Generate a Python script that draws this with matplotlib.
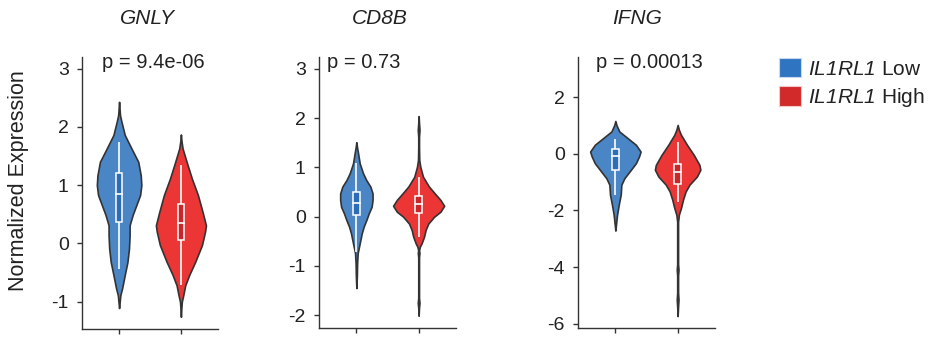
import matplotlib
matplotlib.use("Agg")
import matplotlib.pyplot as plt
from matplotlib.patches import Rectangle, Patch

plt.rcParams['font.family'] = ['Liberation Sans', 'DejaVu Sans']
plt.rcParams['mathtext.fontset'] = 'custom'
plt.rcParams['mathtext.it'] = 'Liberation Sans:italic'
plt.rcParams['mathtext.rm'] = 'Liberation Sans:italic'

# ---------------- data ----------------
genes = ["GNLY", "CD8B", "IFNG"]
groups = ["IL1RL1 Low", "IL1RL1 High"]
pvalues = ["p = 9.4e-06", "p = 0.73", "p = 0.00013"]
yticks = [[-1, 0, 1, 2, 3], [-2, -1, 0, 1, 2, 3], [-6, -4, -2, 0, 2]]
ylims = [(-1.47, 3.2), (-2.26, 3.24), (-6.15, 3.42)]

# violin density profiles (y level, half width)
gnly_low_y = [2.43, 2.3, 2.2, 2.09, 1.86, 1.63, 1.40, 1.17, 1.0, 0.83, 0.66, 0.49, 0.31, 0.14, -0.09, -0.32, -0.54, -0.77, -0.89, -1.0, -1.11]
gnly_low_w = [0, 0.008, 0.015, 0.038, 0.092, 0.2, 0.31, 0.35, 0.36, 0.34, 0.28, 0.22, 0.17, 0.17, 0.16, 0.135, 0.092, 0.049, 0.02, 0.01, 0]
gnly_high_y = [1.87, 1.75, 1.63, 1.40, 1.11, 0.83, 0.54, 0.31, 0.2, -0.03, -0.32, -0.54, -0.72, -0.89, -1.0, -1.1, -1.26]
gnly_high_w = [0, 0.01, 0.027, 0.092, 0.178, 0.275, 0.35, 0.405, 0.39, 0.34, 0.23, 0.135, 0.07, 0.038, 0.015, 0.008, 0]
cd8b_low_y = [1.51, 1.4, 1.29, 1.08, 0.88, 0.74, 0.61, 0.47, 0.34, 0.2, 0.07, -0.07, -0.2, -0.34, -0.54, -0.74, -0.95, -1.2, -1.45]
cd8b_low_w = [0, 0.012, 0.027, 0.054, 0.107, 0.16, 0.225, 0.26, 0.26, 0.245, 0.2, 0.16, 0.118, 0.086, 0.054, 0.021, 0.012, 0.008, 0]
cd8b_high_y = [2.04, 1.9, 1.76, 1.62, 1.4, 1.15, 1.01, 0.81, 0.61, 0.47, 0.34, 0.22, 0.1, 0.0, -0.14, -0.27, -0.41, -0.54, -0.61, -0.68, -0.74, -0.82, -1.5, -1.65, -1.75, -1.85, -2.01]
cd8b_high_w = [0, 0.006, 0.014, 0.006, 0.006, 0.01, 0.027, 0.07, 0.166, 0.26, 0.35, 0.41, 0.35, 0.25, 0.155, 0.112, 0.086, 0.048, 0.02, 0.007, 0.013, 0.006, 0.006, 0.006, 0.014, 0.006, 0]
ifng_low_y = [1.16, 1.0, 0.79, 0.55, 0.32, 0.08, -0.09, -0.33, -0.56, -0.86, -1.09, -1.44, -1.8, -2.15, -2.5, -2.71]
ifng_low_w = [0, 0.02, 0.064, 0.2, 0.33, 0.405, 0.38, 0.33, 0.25, 0.145, 0.096, 0.086, 0.054, 0.027, 0.01, 0]
ifng_high_y = [1.02, 0.85, 0.67, 0.32, -0.04, -0.39, -0.56, -0.8, -1.09, -1.33, -1.62, -1.91, -2.15, -2.4, -3.5, -3.9, -4.09, -4.3, -4.9, -5.15, -5.4, -5.73]
ifng_high_w = [0, 0.02, 0.054, 0.15, 0.26, 0.35, 0.365, 0.31, 0.19, 0.128, 0.086, 0.054, 0.02, 0.007, 0.007, 0.007, 0.014, 0.007, 0.007, 0.014, 0.007, 0]

profiles = [
    [(gnly_low_y, gnly_low_w), (gnly_high_y, gnly_high_w)],
    [(cd8b_low_y, cd8b_low_w), (cd8b_high_y, cd8b_high_w)],
    [(ifng_low_y, ifng_low_w), (ifng_high_y, ifng_high_w)],
]

# box stats: whisker low, q1, median, q3, whisker high
gnly_box = [[-0.44, 0.37, 0.85, 1.2, 1.74], [-0.72, 0.06, 0.35, 0.68, 1.34]]
cd8b_box = [[-0.71, 0.03, 0.28, 0.51, 1.08], [-0.41, 0.08, 0.25, 0.42, 0.81]]
ifng_box = [[-1.47, -0.56, -0.09, 0.16, 0.53], [-1.7, -1.06, -0.65, -0.36, 0.41]]
boxes = [gnly_box, cd8b_box, ifng_box]

# ---------------- style ----------------
violin_colors = ["#4a86c6", "#ec3535"]
box_colors = ["#2d6cb6", "#c9252b"]
legend_colors = ["#2f74c0", "#d22a2a"]
edge = "#333333"
txt = "#222222"

W, H = 931, 341
fig = plt.figure(figsize=(W / 100, H / 100), dpi=100)

axes_px = [(82, 57, 136, 272), (319, 57, 137, 271), (578, 57, 137, 271)]
title_x = [147.5, 380, 637]
p_x = [153.5, 364, 649]

for i, (l, t, w, h) in enumerate(axes_px):
    ax = fig.add_axes([l / W, 1 - (t + h) / H, w / W, h / H])
    ax.set_xlim(0.4, 2.6)
    ax.set_ylim(*ylims[i])
    for j in range(2):
        ys, ws = profiles[i][j]
        pos = j + 1
        ax.fill_betweenx(ys, [pos - v for v in ws], [pos + v for v in ws],
                         facecolor=violin_colors[j], edgecolor=edge, linewidth=1.2, zorder=2)
        lo, q1, med, q3, hi = boxes[i][j]
        ax.plot([pos, pos], [lo, hi], color="white", lw=1.2, zorder=3, solid_capstyle="butt")
        bw = 0.054
        ax.add_patch(Rectangle((pos - bw, q1), 2 * bw, q3 - q1, facecolor=box_colors[j],
                               edgecolor="white", lw=1.1, zorder=4))
        ax.plot([pos - bw, pos + bw], [med, med], color="white", lw=1.2, zorder=5)
    ax.set_xticks([1, 2])
    ax.set_xticklabels([])
    ax.set_yticks(yticks[i])
    ax.set_yticklabels([str(v) for v in yticks[i]])
    for s in ["top", "right"]:
        ax.spines[s].set_visible(False)
    for s in ["left", "bottom"]:
        ax.spines[s].set_color(edge)
        ax.spines[s].set_linewidth(1.0)
    ax.tick_params(axis="both", length=3.5, width=1.0, color=edge, labelsize=14,
                   labelcolor=txt, pad=6)
    ax.patch.set_visible(False)
    fig.text(title_x[i] / W, 1 - 18.5 / H, genes[i], fontsize=15, style="italic",
             ha="center", va="center", color=txt)
    fig.text(p_x[i] / W, 1 - 63 / H, pvalues[i], fontsize=14.5, ha="center", va="center", color=txt)

fig.text(19 / W, 1 - 181 / H, "Normalized Expression", rotation=90, fontsize=15.5,
         ha="center", va="center", color=txt)

handles = [Patch(facecolor=legend_colors[k], edgecolor="#f0c8c8" if k else "#c8d8f0", lw=0.8)
           for k in range(2)]
labels = ["$\\mathrm{IL1RL1}$ " + g.split(" ")[1] for g in groups]
fig.legend(handles, labels, loc="upper left", bbox_to_anchor=(779 / W, 1 - 58 / H),
           frameon=False, fontsize=15, handlelength=1.05, handleheight=1.05,
           handletextpad=0.35, labelspacing=0.35, borderpad=0, borderaxespad=0,
           labelcolor=txt)

fig.savefig("out.png", dpi=100)
